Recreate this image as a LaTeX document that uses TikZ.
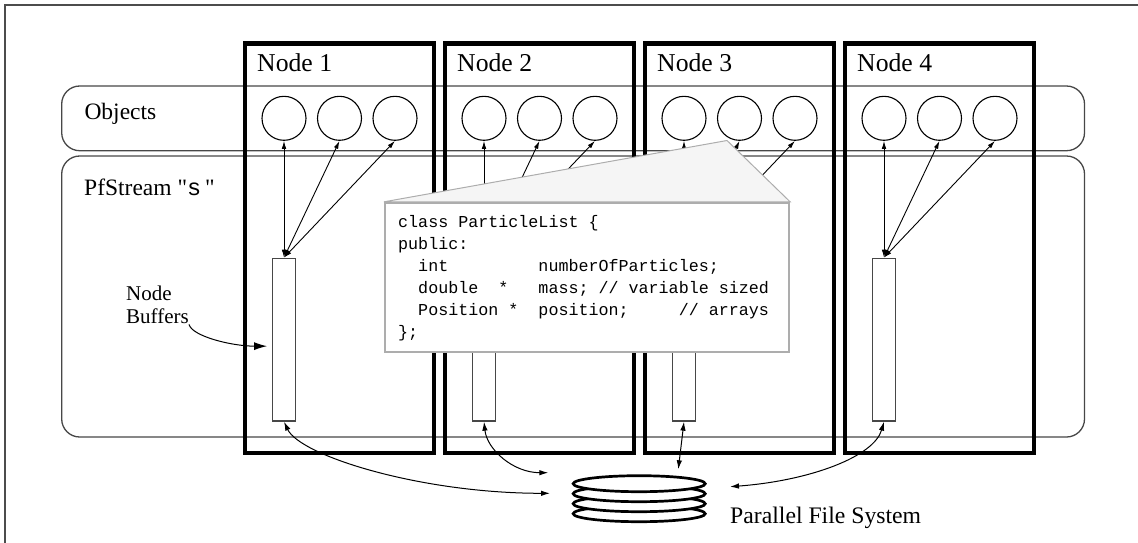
\documentclass[tikz,border=0pt]{standalone}
\usepackage{fontspec}
\setmainfont{Liberation Serif}
\setmonofont{Liberation Mono}
\usetikzlibrary{arrows.meta,shapes.geometric}

% fixed-pitch gap of #1 character cells in the monospaced font
\newcommand\colgap[1]{\hspace*{\dimexpr #1em*6/10\relax}}

\tikzset{
  frameline/.style={draw=black!70, line width=1.4pt},
  groupbox/.style={rectangle, draw=black!72, line width=1.3pt, rounded corners=18pt,
                   inner sep=0pt, minimum width=1022.8pt},
  nodebox/.style={rectangle, draw=black, line width=4.6pt, inner sep=0pt,
                  minimum width=189pt, minimum height=409.5pt},
  obj/.style={circle, draw=black, line width=1.1pt, minimum size=44pt, inner sep=0pt},
  buffer/.style={rectangle, draw=black!72, line width=1.3pt, inner sep=0pt,
                 minimum width=22.6pt, minimum height=162.7pt},
  link/.style={line width=0.9pt, {Latex[length=8pt,width=4.6pt]}-{Latex[length=8pt,width=4.6pt]}},
  iolink/.style={line width=1pt, {Latex[length=9pt,width=5.5pt]}-{Latex[length=9pt,width=5.5pt]}},
  pointer/.style={line width=1pt, -{Latex[length=13pt,width=8pt]}},
  platter/.style={ellipse, draw=black, fill=white, line width=2.7pt, inner sep=0pt,
                  minimum width=132pt, minimum height=16pt},
  wedge/.style={draw=black!32, fill=black!4, line width=1pt, line join=miter},
  codebox/.style={rectangle, draw=black!32, fill=white, line width=2.3pt, inner sep=0pt,
                  minimum width=404pt, minimum height=149pt},
  headlbl/.style={inner sep=0pt, font=\fontsize{25.7pt}{30pt}\selectfont},
  grouplbl/.style={inner sep=0pt, font=\fontsize{23.5pt}{28pt}\selectfont},
  notelbl/.style={inner sep=0pt, align=left, font=\fontsize{21pt}{23.7pt}\selectfont},
  codetext/.style={inner sep=0pt, align=left, font=\ttfamily\fontsize{16.7pt}{22pt}\selectfont},
}

\begin{document}
\begin{tikzpicture}[x=1pt, y=-1pt]
\useasboundingbox (0,0) rectangle (1138,542);

% outer frame
\draw[frameline] (5,560) -- (5,5) -- (1160,5);

% the two horizontal layers
\node[groupbox, minimum height=64.7pt] (objects) at (573.1,118.35) {};
\node[groupbox, minimum height=281pt] (stream) at (573.1,296.5) {};
\node[grouplbl, anchor=base west] (objlbl) at (84.3,119.3) {Objects};
\node[grouplbl, anchor=base west] (streamlbl) at (84,195)
  {PfStream \textquotedbl\texttt{s}\,\textquotedbl};

% the four processor nodes with their objects and buffers
\foreach \k/\x in {1/339.5, 2/539.5, 3/739.5, 4/939.5} {
  \node[nodebox] (n\k) at (\x,248.25) {};
  \node[headlbl, anchor=base west] (nl\k) at (\x-82.5,71) {Node \k};
  \node[obj] (c\k-1) at (\x-55.5,118.3) {};
  \node[obj] (c\k-2) at (\x,118.3) {};
  \node[obj] (c\k-3) at (\x+55.5,118.3) {};
  \node[buffer] (b\k) at (\x-55.5,339.65) {};
}

% buffer <-> object links
\foreach \k in {1,...,4} {
  \foreach \j in {1,2,3} {
    \draw[link] (b\k.north) -- (c\k-\j.south);
  }
}

% annotation for the buffers
\node[notelbl, anchor=north west] (buflbl) at (126,285.5) {Node\\Buffers};
\draw[pointer] (buflbl.south east) .. controls +(3,12) and +(-35,0) .. ([shift={(-5,6.5)}]b1.west);

% class declaration callout
\node[codebox] (code) at (587,277.5) {};
\coordinate (tip) at (727,140.5);
\path[wedge] (code.north west) -- (tip) -- (code.north east) -- cycle;
\node[codebox, draw=black!32] at (code) {};
\node[codetext, anchor=north west] (codetxt) at (398,214.8) {%
class ParticleList \{\\
public:\\
\colgap{2}int\colgap{9}numberOfParticles;\\
\colgap{2}double\colgap{2}*\colgap{3}mass; // variable sized\\
\colgap{2}Position\colgap{1}*\colgap{2}position;\colgap{5}// arrays\\
\};};

% parallel file system: a stack of platters
\node[platter] (d4) at (639.2,513.7) {};
\node[platter] (d3) at (639.2,503.7) {};
\node[platter] (d2) at (639.2,493.7) {};
\node[platter] (d1) at (639.2,483.7) {};
\node[grouplbl, font=\fontsize{23.7pt}{28pt}\selectfont, anchor=base west] (pfslbl) at (730,523.3) {Parallel File System};

% buffer <-> file system transfers
\coordinate (p1) at (550,493.3);
\coordinate (p2) at (548.3,472.7);
\coordinate (p3) at (678.3,469.3);
\coordinate (p4) at (730,486.7);
\draw[iolink] (b1.south) .. controls +(16,34) and +(-130,0) .. (p1);
\draw[iolink] (b2.south) .. controls +(3,28) and +(-35,0) .. (p2);
\draw[iolink] (b3.south) -- (p3);
\draw[iolink] (b4.south) .. controls +(-10,35) and +(80,-6) .. (p4);
\end{tikzpicture}
\end{document}
